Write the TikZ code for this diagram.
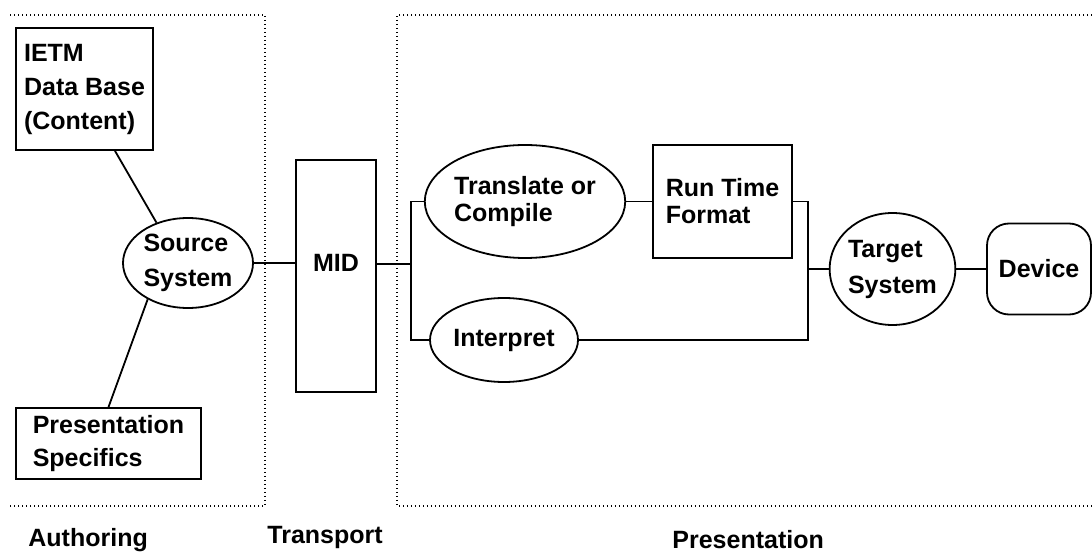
\documentclass[tikz,border=0pt]{standalone}
\usepackage{fontspec}
\setmainfont{Liberation Sans}
\usetikzlibrary{shapes.geometric}
\tikzset{
  px/.style={x=0.5pt,y=-0.5pt},
  txt/.style={font=\fontsize{12.5}{#1}\selectfont\bfseries},
  txt/.default={15},
  boxnode/.style={draw,line width=0.9pt,rectangle,inner sep=0pt,align=left},
  ellnode/.style={draw,line width=0.9pt,ellipse,inner sep=0pt,align=left},
  conn/.style={line width=0.9pt},
  region/.style={line width=0.9pt,dash pattern=on 0.7pt off 1.3pt},
  lbl/.style={anchor=base west,inner sep=0pt,txt}
}
\begin{document}
\begin{tikzpicture}[px]
\useasboundingbox (0,0) rectangle (1092,555);
% regions
\draw[region] (10,15) -- (265,15) -- (265,506) -- (10,506);
\draw[region] (1092,15) -- (397,15) -- (397,506) -- (1092,506);
% nodes
\node[boxnode,txt=17pt,minimum width=68.5pt,minimum height=61pt] (ietm) at (84.5,89) {IETM\\Data Base\\(Content)};
\node[ellnode,txt=17.5pt,minimum width=65pt,minimum height=45pt] (src) at (188,263) {Source\\System};
\node[boxnode,txt=16.5pt,minimum width=92.5pt,minimum height=35.5pt] (pres) at (108.5,443.5) {Presentation\\Specifics};
\node[boxnode,txt,text height=9pt,text depth=13pt,minimum width=40pt,minimum height=116pt] (mid) at (336,276) {MID};
\node[ellnode,txt=13.5pt,minimum width=97pt,minimum height=56.5pt] (tr) at (525,201.5) {Translate or\\Compile};
\node[boxnode,txt=13.5pt,minimum width=69.5pt,minimum height=56.5pt] (rtf) at (722.5,201.5) {Run Time\\Format};
\node[ellnode,txt,minimum width=74pt,minimum height=42pt] (int) at (504,340) {Interpret};
\node[ellnode,txt=18pt,minimum width=59.5pt,minimum height=56pt] (tgt) at (892.5,269) {Target\\System};
\node[boxnode,txt,rounded corners=11pt,minimum width=52pt,minimum height=45.5pt] (dev) at (1039,269) {Device};
\coordinate (br) at (411,264);
\coordinate (jn) at (808,269);
% connectors
\draw[conn] ([xshift=15.25pt]ietm.south) -- (src.128);
\draw[conn] (src.222) -- (pres.north);
\draw[conn] (src.east) -- (mid.west |- src.east);
\draw[conn] (mid.east |- br) -- (br);
\draw[conn] (tr.west) -| (br) |- (int.west);
\draw[conn] (tr.east) -- (rtf.west);
\draw[conn] (rtf.east) -| (jn) |- (int.east);
\draw[conn] (jn) -- (tgt.west);
\draw[conn] (tgt.east) -- (dev.west);
% region labels
\node[lbl] (la) at (28,546) {Authoring};
\node[lbl] (lt) at (267,543) {Transport};
\node[lbl] (lp) at (672,548) {Presentation};
\end{tikzpicture}
\end{document}
